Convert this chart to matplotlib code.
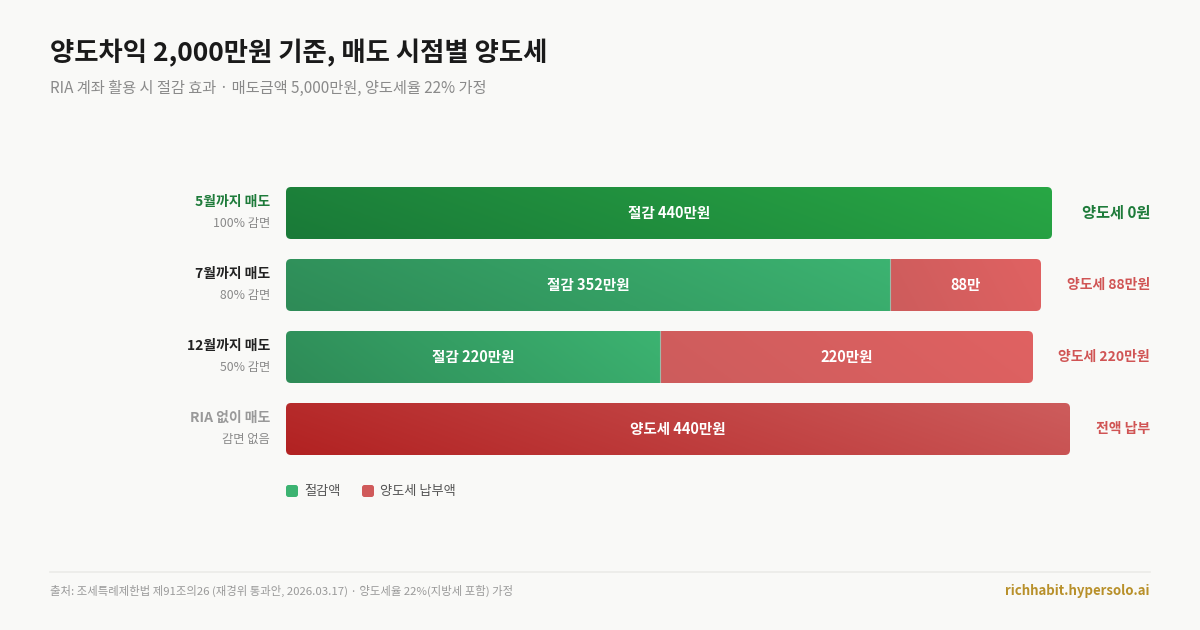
import numpy as np
import matplotlib
matplotlib.use("Agg")
import matplotlib.pyplot as plt
from matplotlib.patches import FancyBboxPatch
from matplotlib.colors import LinearSegmentedColormap

plt.rcParams['font.family'] = ['Noto Sans CJK KR', 'DejaVu Sans']

# data
categories = ['5월까지 매도', '7월까지 매도', '12월까지 매도', 'RIA 없이 매도']
sublabels = ['100% 감면', '80% 감면', '50% 감면', '감면 없음']
saved = [440, 352, 220, 0]
tax = [0, 88, 220, 440]
saved_labels = ['절감 440만원', '절감 352만원', '절감 220만원', '']
tax_labels = ['', '88만', '220만원', '양도세 440만원']
right_labels = ['양도세 0원', '양도세 88만원', '양도세 220만원', '전액 납부']
total = 440

# layout (pixels, top-left origin)
W, H = 1200, 630
BG = '#f9f9f7'
bar_left = 286
bar_right = [1052, 1041, 1033, 1070]
row_y = [213, 285, 357, 429]
bar_h = 52
radius = 5

GREEN = '#1e7b3a'
RED = '#d05454'

fig = plt.figure(figsize=(12, 6.3), dpi=100, facecolor=BG)
ax = fig.add_axes([0, 0, 1, 1])
ax.set_xlim(0, W)
ax.set_ylim(H, 0)
ax.axis('off')

# title
ax.text(50, 53, '양도차익 2,000만원 기준, 매도 시점별 양도세', fontsize=19, fontweight='bold',
        color='#1a1a1a', va='center', ha='left')
ax.text(50, 88, 'RIA 계좌 활용 시 절감 효과 · 매도금액 5,000만원, 양도세율 22% 가정', fontsize=11,
        color='#8a8a8a', va='center', ha='left')


def gradient(a, c0, c1, x0, x1, clip):
    cmap = LinearSegmentedColormap.from_list('g', [c0, c1])
    xs = np.linspace(0, 1, 256)
    ys = np.linspace(0, 1, 16)[:, None]
    grad = np.clip(0.85 * xs[None, :] + 0.15 * ys, 0, 1)
    im = a.imshow(grad, cmap=cmap, extent=[x0, x1, 0, 1], origin='lower',
                  aspect='auto', vmin=0, vmax=1, interpolation='bilinear', zorder=1)
    im.set_clip_path(clip)


left_colors = [GREEN, '#222222', '#222222', '#999999']

for i in range(len(categories)):
    right = bar_right[i]
    wpx = right - bar_left
    bax = fig.add_axes([bar_left / W, (H - row_y[i] - bar_h / 2) / H, wpx / W, bar_h / H])
    bax.set_xlim(0, total)
    bax.set_ylim(0, 1)
    bax.axis('off')
    bax.patch.set_alpha(0)

    r = radius * total / wpx
    aspect = wpx / (bar_h * total)
    clip = FancyBboxPatch((0, 0), saved[i] + tax[i], 1,
                          boxstyle=f'round,pad=0,rounding_size={r}',
                          mutation_aspect=aspect, facecolor='none', edgecolor='none')
    bax.add_patch(clip)

    if tax[i] == 0:
        gradient(bax, '#1a7a38', '#28a745', 0, saved[i], clip)
    elif saved[i] == 0:
        gradient(bax, '#b22222', '#cd5c5c', 0, tax[i], clip)
    else:
        gradient(bax, '#2e8b57', '#3cb371', 0, saved[i], clip)
        gradient(bax, '#cd5c5c', '#e06262', saved[i], saved[i] + tax[i], clip)
        bax.axvline(saved[i], color='#a0b8a8', lw=0.8, zorder=2)

    if saved_labels[i]:
        bax.text(saved[i] / 2, 0.5, saved_labels[i], color='white', fontsize=10.5,
                 fontweight='bold', ha='center', va='center', zorder=3)
    if tax_labels[i]:
        bax.text(saved[i] + tax[i] / 2, 0.5, tax_labels[i], color='white', fontsize=10.5,
                 fontweight='bold', ha='center', va='center', zorder=3)

    # left labels
    ax.text(270, row_y[i] - 11, categories[i], fontsize=10, fontweight='bold',
            color=left_colors[i], ha='right', va='center')
    ax.text(270, row_y[i] + 10, sublabels[i], fontsize=8.8, color='#8a8a8a',
            ha='right', va='center')

    # right labels
    if i == 0:
        ax.text(1150, row_y[i], right_labels[i], fontsize=11, fontweight='bold',
                color=GREEN, ha='right', va='center')
    else:
        ax.text(1150, row_y[i], right_labels[i], fontsize=10, fontweight='bold',
                color=RED, ha='right', va='center')

# legend
ax.add_patch(FancyBboxPatch((286, 485), 12, 12, boxstyle='round,pad=0,rounding_size=2.5',
                            facecolor='#3cb371', edgecolor='none'))
ax.text(304, 491, '절감액', fontsize=9.5, color='#555555', ha='left', va='center')
ax.add_patch(FancyBboxPatch((362, 485), 12, 12, boxstyle='round,pad=0,rounding_size=2.5',
                            facecolor='#d05a5a', edgecolor='none'))
ax.text(380, 491, '양도세 납부액', fontsize=9.5, color='#555555', ha='left', va='center')

# footer
ax.plot([50, 1150], [572, 572], color='#ebebe8', lw=1.2)
ax.text(50, 591, '출처: 조세특례제한법 제91조의26 (재경위 통과안, 2026.03.17) · 양도세율 22%(지방세 포함) 가정',
        fontsize=8.2, color='#9a9a9a', ha='left', va='center')
ax.text(1150, 591, 'richhabit.hypersolo.ai', fontsize=9.5, fontweight='bold',
        color='#b8902a', ha='right', va='center')

fig.savefig('out.png', dpi=100, facecolor=BG)
